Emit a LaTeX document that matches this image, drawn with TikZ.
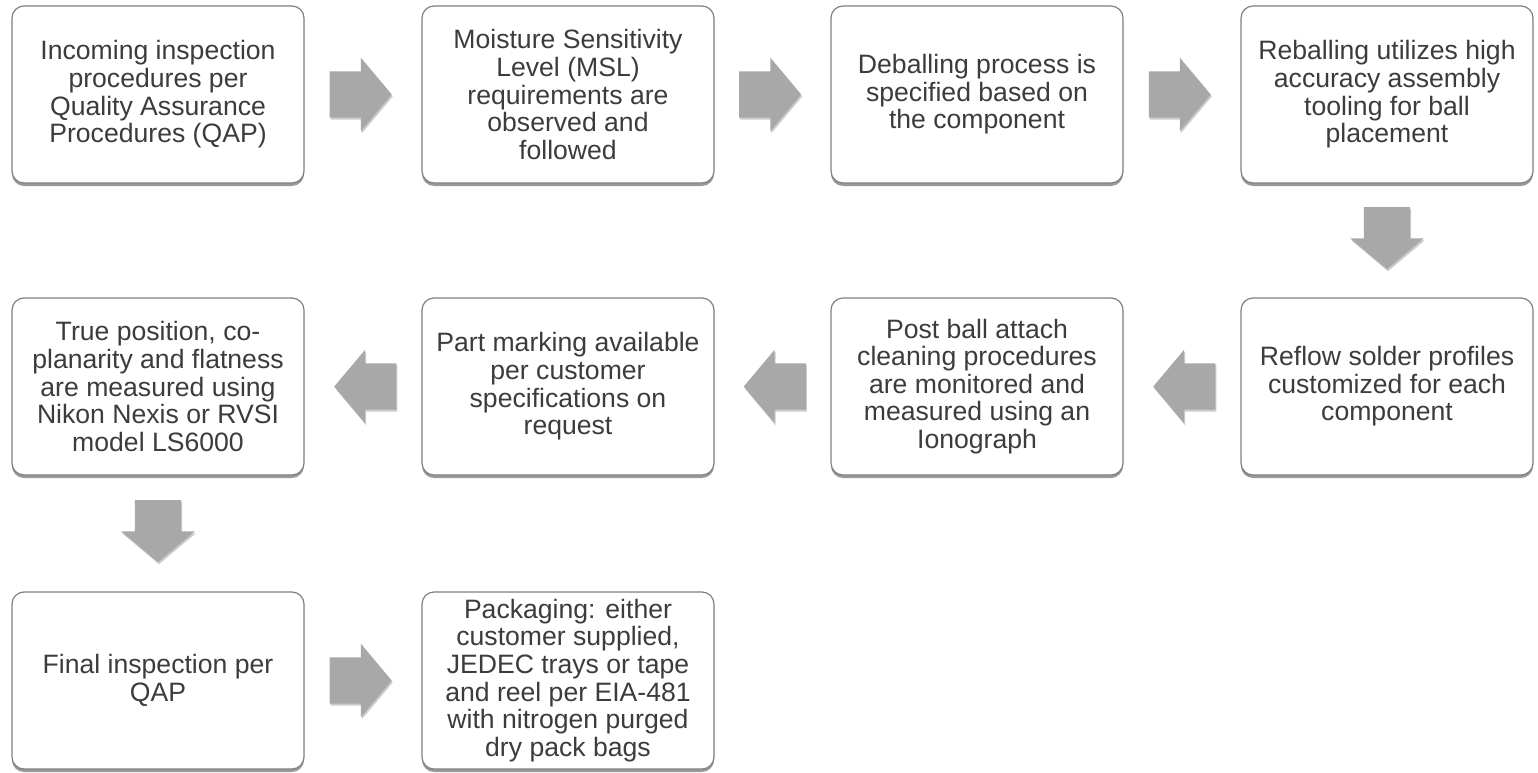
\documentclass[tikz,border=0pt]{standalone}
\usepackage{fontspec}
\setmainfont{Liberation Sans}
\usetikzlibrary{shapes.arrows,shadows}
\definecolor{txtgray}{HTML}{3C3C3C}
\definecolor{linegray}{HTML}{7F7F7F}
\definecolor{arrowgray}{HTML}{A8A8A8}
\begin{document}
\begin{tikzpicture}
[x=1pt,y=-1pt,
 box/.style={draw=linegray,line width=1.2pt,fill=white,rounded corners=12pt,
   minimum width=292pt,minimum height=177pt,align=center,text=txtgray,
   font=\fontsize{26.6}{27.6}\selectfont,inner sep=2pt,
   drop shadow={shadow xshift=0pt,shadow yshift=-3pt,opacity=.4,fill=black}},
 blk/.style={single arrow,fill=arrowgray,draw=none,minimum height=62pt,
   single arrow head extend=13.5pt,single arrow tip angle=100,
   drop shadow={shadow xshift=1pt,shadow yshift=-2pt,opacity=.2,fill=black}},
 rarr/.style={blk,inner xsep=0pt,inner ysep=23pt,xshift=-12pt},
 larr/.style={blk,inner xsep=0pt,inner ysep=23pt,shape border rotate=180,xshift=12pt},
 darr/.style={blk,inner xsep=23pt,inner ysep=0pt,shape border rotate=270,yshift=12pt}]
   \useasboundingbox (0,0) rectangle (1538,773);
   \node[box] (s1)  at (158,94.5)   {Incoming inspection\\procedures per\\Quality Assurance\\Procedures (QAP)};
   \node[box] (s2)  at (568,94.5)   {Moisture Sensitivity\\Level (MSL)\\requirements are\\observed and\\followed};
   \node[box] (s3)  at (977,94.5)   {Deballing process is\\specified based on\\the component};
   \node[box] (s4)  at (1387,94.5)  {Reballing utilizes high\\accuracy assembly\\tooling for ball\\placement};
   \node[box] (s5)  at (1387,386.5) {Reflow solder profiles\\customized for each\\component};
   \node[box] (s6)  at (977,386.5)  {Post ball attach\\cleaning procedures\\are monitored and\\measured using an\\Ionograph};
   \node[box] (s7)  at (568,386.5)  {Part marking available\\per customer\\specifications on\\request};
   \node[box] (s8)  at (158,386.5)  {True position, co-\\planarity and flatness\\are measured using\\Nikon Nexis or RVSI\\model LS6000};
   \node[box] (s9)  at (158,680.5)  {Final inspection per\\QAP};
   \node[box] (s10) at (568,680.5)  {Packaging: either\\customer supplied,\\JEDEC trays or tape\\and reel per EIA-481\\with nitrogen purged\\dry pack bags};
   \path
    (s1) -- node[rarr] {} (s2)
    (s2) -- node[rarr] {} (s3)
    (s3) -- node[rarr] {} (s4)
    (s4) -- node[darr] {} (s5)
    (s5) -- node[larr] {} (s6)
    (s6) -- node[larr] {} (s7)
    (s7) -- node[larr] {} (s8)
    (s8) -- node[darr] {} (s9)
    (s9) -- node[rarr] {} (s10)
    ;
\end{tikzpicture}
\end{document}
